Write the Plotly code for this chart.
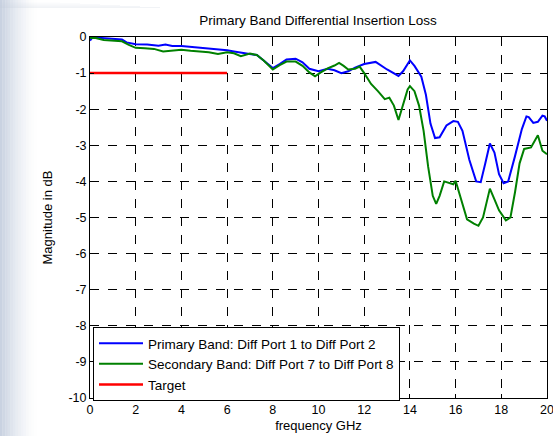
import plotly.graph_objects as go

# Primary band: Diff Port 1 -> Diff Port 2
primary_freq = [0.0, 0.1, 0.5, 1.0, 1.4, 1.6, 2.0, 2.5, 3.0, 3.3, 3.6, 4.0, 4.5, 5.0, 5.5,
                6.0, 6.3, 6.6, 7.0, 7.3, 7.6, 8.0, 8.3, 8.6, 9.0, 9.3, 9.6, 10.0, 10.4,
                10.7, 11.0, 11.3, 11.6, 12.0, 12.5, 13.0, 13.5, 13.7, 14.0, 14.2, 14.5,
                14.7, 14.9, 15.1, 15.3, 15.6, 15.9, 16.1, 16.3, 16.6, 16.9, 17.1, 17.3,
                17.5, 17.7, 17.9, 18.1, 18.3, 18.6, 18.9, 19.1, 19.2, 19.4, 19.6, 19.8,
                19.9, 20.0]
primary_db = [-0.10, -0.02, -0.03, -0.06, -0.07, -0.15, -0.20, -0.21, -0.24, -0.21, -0.25,
              -0.25, -0.28, -0.31, -0.33, -0.37, -0.40, -0.43, -0.46, -0.50, -0.65, -0.86,
              -0.75, -0.62, -0.60, -0.70, -0.88, -0.95, -0.88, -0.92, -1.00, -0.95, -0.85,
              -0.75, -0.69, -0.90, -1.08, -0.95, -0.65, -0.80, -1.10, -1.60, -2.40, -2.80,
              -2.78, -2.45, -2.33, -2.35, -2.60, -3.40, -4.00, -4.02, -3.50, -2.95, -3.20,
              -3.80, -4.05, -4.00, -3.30, -2.55, -2.20, -2.22, -2.38, -2.35, -2.18, -2.20,
              -2.32]

# Secondary band: Diff Port 7 -> Diff Port 8
secondary_freq = [0.0, 0.2, 0.6, 1.0, 1.4, 1.7, 2.0, 2.4, 2.8, 3.2, 3.6, 4.0, 4.4, 4.8, 5.2,
                  5.6, 6.0, 6.3, 6.6, 7.0, 7.3, 7.6, 8.0, 8.3, 8.6, 9.0, 9.3, 9.6, 9.85,
                  10.1, 10.4, 10.7, 10.9, 11.1, 11.3, 11.6, 11.8, 12.0, 12.3, 12.6, 12.9,
                  13.1, 13.3, 13.5, 13.7, 13.9, 14.0, 14.2, 14.4, 14.6, 14.8, 15.0, 15.15,
                  15.3, 15.5, 15.7, 15.9, 16.0, 16.2, 16.5, 16.8, 17.0, 17.2, 17.5, 17.7,
                  17.9, 18.2, 18.4, 18.6, 18.8, 19.0, 19.3, 19.6, 19.8, 20.0]
secondary_db = [-0.03, -0.02, -0.08, -0.10, -0.12, -0.22, -0.30, -0.31, -0.33, -0.40, -0.37,
                -0.35, -0.38, -0.39, -0.42, -0.47, -0.42, -0.45, -0.53, -0.46, -0.50, -0.65,
                -0.90, -0.78, -0.68, -0.68, -0.80, -0.98, -1.09, -0.98, -0.87, -0.79, -0.72,
                -0.80, -0.90, -0.88, -0.82, -1.00, -1.30, -1.50, -1.72, -1.68, -1.90, -2.30,
                -1.85, -1.45, -1.36, -1.50, -1.90, -2.60, -3.60, -4.40, -4.62, -4.40, -4.00,
                -4.05, -4.08, -3.98, -4.40, -5.05, -5.17, -5.23, -5.00, -4.20, -4.50, -4.80,
                -5.08, -5.00, -4.30, -3.50, -3.10, -3.06, -2.72, -3.15, -3.25]

# Insertion-loss target up to 6 GHz
target_freq = [0, 6]
target_db = [-1, -1]

x_ticks = list(range(0, 21, 2))
y_ticks = list(range(-10, 1, 1))

FONT = "Liberation Sans, Arial, sans-serif"

fig = go.Figure()
fig.add_trace(go.Scatter(x=primary_freq, y=primary_db, mode="lines",
                         name="Primary Band: Diff Port 1 to Diff Port 2",
                         line=dict(color="#0000ff", width=2)))
fig.add_trace(go.Scatter(x=secondary_freq, y=secondary_db, mode="lines",
                         name="Secondary Band: Diff Port 7 to Diff Port 8",
                         line=dict(color="#008000", width=2)))
fig.add_trace(go.Scatter(x=target_freq, y=target_db, mode="lines",
                         name="Target",
                         line=dict(color="#ff0000", width=2.5)))

W, H = 553, 436
L, R, T, B = 90, 6, 37, 38
pw = W - L - R
ph = H - T - B


def px_x(p):
    return (p - L) / pw


def px_y(p):
    return (H - B - p) / ph


# soft slide-background strip on the left edge
shapes = []
n = 14
for i in range(n):
    a = 0.6 * (1 - i / n) ** 1.5
    shapes.append(dict(type="rect", xref="paper", yref="paper",
                       x0=px_x(i * 2.6), x1=px_x((i + 1) * 2.6),
                       y0=px_y(H), y1=px_y(0), line=dict(width=0),
                       fillcolor=f"rgba(165,180,205,{a:.3f})", layer="below"))
for i in range(6):
    a = 0.22 * (1 - i / 6)
    shapes.append(dict(type="rect", xref="paper", yref="paper",
                       x0=px_x(0), x1=px_x(160 - i * 20),
                       y0=px_y(8 - i), y1=px_y(7 - i), line=dict(width=0),
                       fillcolor=f"rgba(190,200,215,{a:.3f})", layer="below"))

axis_common = dict(showline=True, linecolor="black", linewidth=1, mirror=True,
                   showgrid=True, gridcolor="black", gridwidth=1, griddash="dash",
                   zeroline=False, ticks="inside", ticklen=4, tickcolor="black",
                   automargin=False,
                   tickfont=dict(family=FONT, size=12.5, color="black"))

fig.update_layout(
    width=W, height=H,
    margin=dict(l=L, r=R, t=T, b=B),
    paper_bgcolor="white", plot_bgcolor="white",
    title=dict(text="Primary Band Differential Insertion Loss",
               font=dict(family=FONT, size=13.5, color="black"),
               x=318 / W, xanchor="center",
               y=1 - 20 / H, yanchor="middle"),
    xaxis=dict(range=[0, 20], tickvals=x_ticks, ticktext=[str(v) for v in x_ticks],
               ticklabeloverflow="allow",
               title=dict(text="frequency GHz", font=dict(family=FONT, size=13, color="black"),
                          standoff=4),
               **axis_common),
    yaxis=dict(range=[-10, 0], tickvals=y_ticks, ticktext=[str(v) for v in y_ticks],
               title=dict(text="Magnitude in dB", font=dict(family=FONT, size=13, color="black"),
                          standoff=12),
               **axis_common),
    legend=dict(x=px_x(93), y=px_y(327), xanchor="left", yanchor="top",
                bgcolor="white", bordercolor="black", borderwidth=1,
                font=dict(family=FONT, size=13.5, color="black"),
                itemwidth=44, tracegroupgap=0),
    shapes=shapes,
    showlegend=True,
)

fig.write_html("out.html")
